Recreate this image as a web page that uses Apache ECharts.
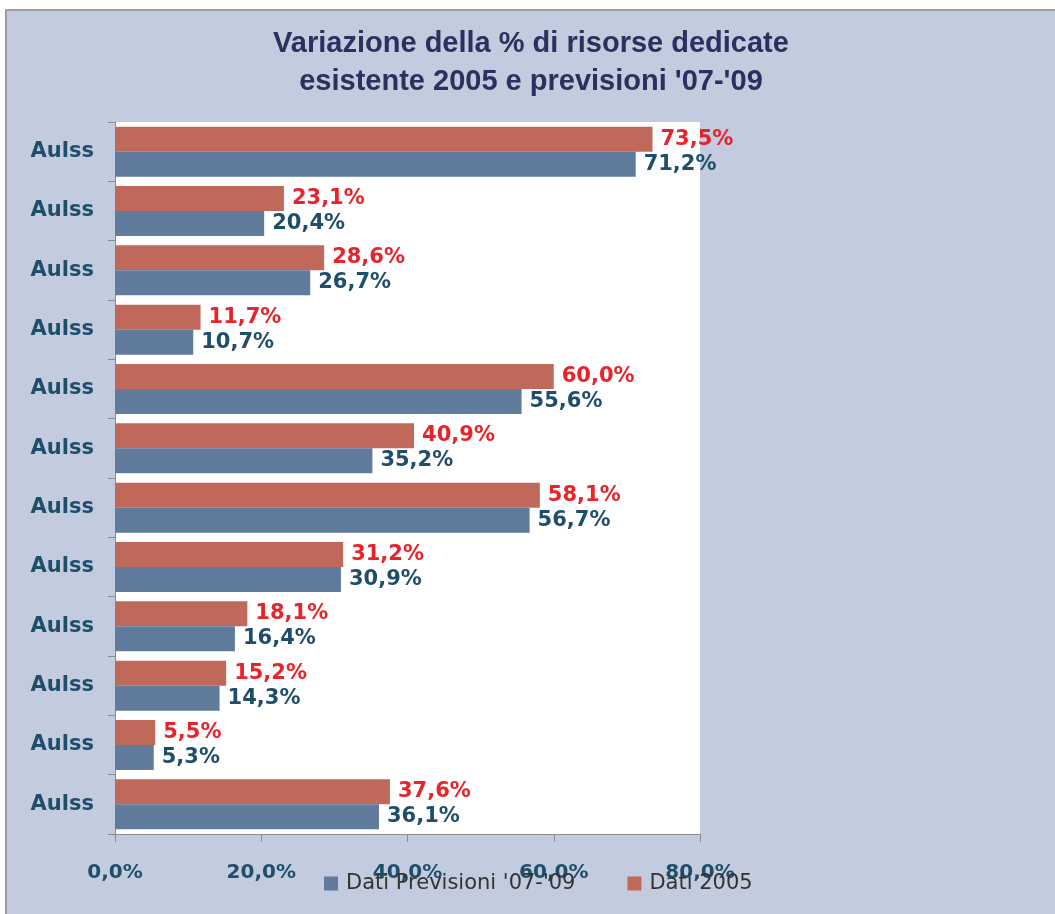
<!DOCTYPE html>
<html>
<head>
<meta charset="utf-8">
<script src="https://cdn.jsdelivr.net/npm/echarts@6/dist/echarts.min.js"></script>
<style>
  body { margin: 0; background: #fff; }
  #chart {
    position: absolute; left: 5px; top: 9px;
    width: 1048px; height: 903px;
    border-left: 2px solid #a39d9d; border-top: 2px solid #a39d9d;
  }
</style>
</head>
<body>
<div id="chart"></div>
<script>
// categorie (dall'alto in basso)
const categories = ['Aulss', 'Aulss', 'Aulss', 'Aulss', 'Aulss', 'Aulss',
  'Aulss', 'Aulss', 'Aulss', 'Aulss', 'Aulss', 'Aulss'];
// Dati 2005 (rosso)
const dati2005 = [73.5, 23.1, 28.6, 11.7, 60.0, 40.9, 58.1, 31.2, 18.1, 15.2, 5.5, 37.6];
// Dati Previsioni '07-'09 (blu)
const datiPrevisioni = [71.2, 20.4, 26.7, 10.7, 55.6, 35.2, 56.7, 30.9, 16.4, 14.3, 5.3, 36.1];
const xTicks = [0, 20, 40, 60, 80];

const fmt = v => v.toFixed(1).replace('.', ',') + '%';
const font = 'DejaVu Sans';

const chart = echarts.init(document.getElementById('chart'));
chart.setOption({
  backgroundColor: '#c3cbde',
  animation: false,
  title: {
    text: "Variazione della % di risorse dedicate\nesistente 2005 e previsioni '07-'09",
    left: 'center',
    top: 9,
    textStyle: {
      fontFamily: 'Liberation Sans', fontSize: 29, fontWeight: 'bold',
      color: '#2d2f5e', lineHeight: 38
    }
  },
  legend: {
    top: 862,
    left: 317,
    padding: 0,
    itemGap: 52,
    itemWidth: 14,
    itemHeight: 14,
    icon: 'rect',
    data: ["Dati Previsioni '07-'09", 'Dati 2005'],
    textStyle: { fontFamily: font, fontSize: 21, color: '#333', padding: [0, 0, 0, 3] }
  },
  grid: {
    left: 108, top: 111, width: 585, height: 712,
    show: true, backgroundColor: '#fff', borderWidth: 0
  },
  xAxis: {
    type: 'value',
    min: xTicks[0], max: xTicks[xTicks.length - 1], interval: 20,
    axisLine: { show: true, lineStyle: { color: '#8f8a8a' } },
    axisTick: { show: true, length: 8, lineStyle: { color: '#8f8a8a' } },
    splitLine: { show: false },
    axisLabel: {
      margin: 29, formatter: v => fmt(v),
      fontFamily: font, fontSize: 20, fontWeight: 'bold', color: '#1f4e6b'
    }
  },
  yAxis: {
    type: 'category',
    inverse: true,
    data: categories,
    axisLine: { show: true, lineStyle: { color: '#8f8a8a' } },
    axisTick: { show: true, length: 7, lineStyle: { color: '#8f8a8a' } },
    axisLabel: {
      margin: 21,
      fontFamily: font, fontSize: 21, fontWeight: 'bold', color: '#1f4e6b'
    }
  },
  series: [
    {
      name: 'Dati 2005',
      type: 'bar',
      data: dati2005,
      barWidth: 25,
      barGap: '0%',
      itemStyle: { color: '#c0695a' },
      label: {
        show: true, position: 'right', distance: 8,
        formatter: p => fmt(p.value),
        fontFamily: font, fontSize: 21, fontWeight: 'bold', color: '#ea2229'
      }
    },
    {
      name: "Dati Previsioni '07-'09",
      type: 'bar',
      data: datiPrevisioni,
      barWidth: 25,
      barGap: '0%',
      itemStyle: { color: '#607b9c' },
      label: {
        show: true, position: 'right', distance: 8,
        formatter: p => fmt(p.value),
        fontFamily: font, fontSize: 21, fontWeight: 'bold', color: '#1f4e6b'
      }
    }
  ]
});
</script>
</body>
</html>
